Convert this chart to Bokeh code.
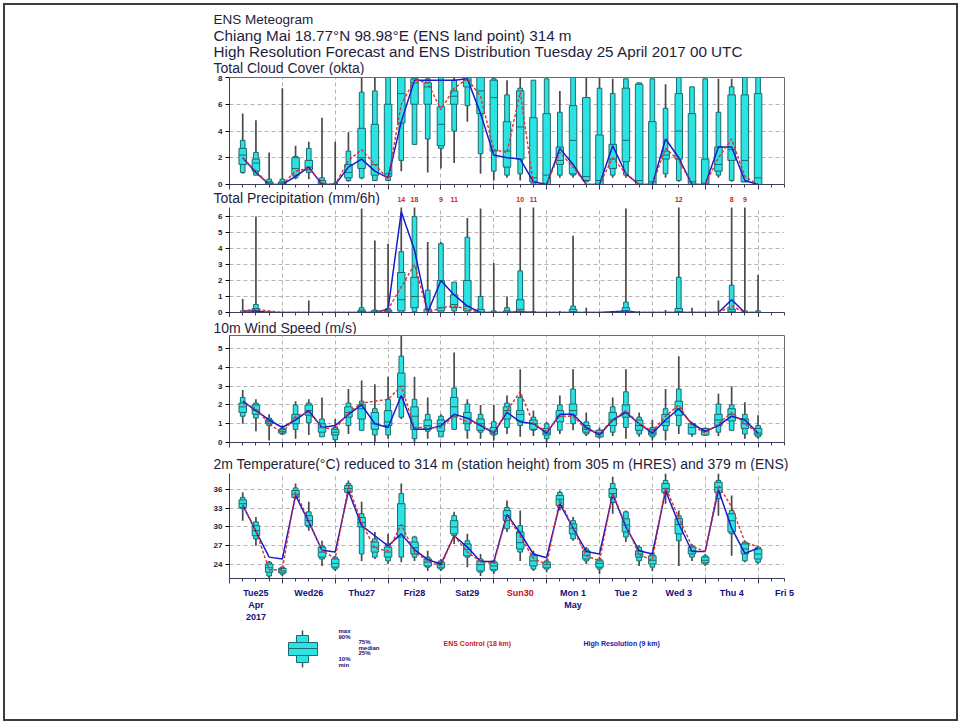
import numpy as np
from bokeh.plotting import figure
from bokeh.models import Range1d, FixedTicker, ColumnDataSource
from bokeh.layouts import column
from bokeh.embed import file_html
from bokeh.resources import INLINE
from bokeh.core.properties import value

# ---------------- data ----------------
hours = list(range(6, 241, 6))
day_ticks = list(range(0, 241, 24))
six_ticks = list(range(0, 253, 6))
day_pos = list(range(12, 253, 24))
day_labels = ["Tue25", "Wed26", "Thu27", "Fri28", "Sat29", "Sun30",
              "Mon 1", "Tue 2", "Wed 3", "Thu 4", "Fri 5"]
day_colors = ["#10107A"] * 5 + ["#CC1010"] + ["#10107A"] * 5
month_pos = [12, 12, 156]
month_labels = ["Apr", "2017", "May"]

# Total cloud cover (okta)
cc_min = [.8,.7,0,0,.4,.4,0,0,.2,.4,.3,.3,1.0,3.0,.9,1.2,1.6,4.7,.8,.3,.5,.3,0,0,.5,.5,.2,0,.5,.5,0,0,.5,.2,0,0,.5,.2,.2,0]
cc_p10 = [.9,.7,0,0,.5,.9,0,0,.3,.5,.3,.3,1.8,3.0,3.4,2.7,4.0,5.9,2.3,1.0,.7,.8,0,0,.7,.7,.2,0,.7,.7,0,0,.8,.3,0,0,.7,.3,.2,0]
cc_p25 = [1.5,1.0,0,0,.7,1.1,.05,0,.5,1.2,.7,.6,4.6,6.0,6.0,2.9,6.0,7.3,5.3,2.5,1.3,1.9,.2,0,1.5,.8,.3,0,1.2,1.7,0,0,1.9,1.9,0,0,1.0,1.8,.2,0]
cc_med = [2.2,1.6,.1,.1,1.2,1.3,.1,0,.9,2.0,1.5,.8,6.8,7.6,7.3,4.5,6.6,7.8,7.0,6.5,2.5,4.3,.5,.7,1.8,3.3,.6,.3,1.9,3.3,.3,.2,2.2,4.0,.2,.1,1.5,2.6,1.8,.5]
cc_p75 = [2.7,1.9,.2,.2,2.0,1.8,.3,0,1.5,4.2,4.5,6.0,8,7.9,7.6,5.8,7.0,8,8,7.8,4.7,7.0,5.0,5.3,2.8,5.9,6.5,3.7,3.0,7.2,7.5,4.7,2.5,6.8,5.3,1.9,2.8,6.7,6.7,6.8]
cc_p90 = [3.3,2.4,.4,.4,2.1,2.7,.5,.1,2.5,6.9,7.0,8,8,8,7.9,8,7.8,8,8,7.9,6.7,7.2,7.8,7.9,5.4,8,6.5,7.2,6.8,7.9,7.6,7.9,5.7,8,7.3,7.9,5.4,7.3,8,8]
cc_max = [5.3,4.8,2.4,7.2,2.9,3.2,5.0,3.2,3.9,8,8,8,8,8,8,8,8,8,8,8,7.8,8,7.8,7.9,7.0,8,8,8,7.9,7.9,7.6,7.9,7.5,8,7.3,7.9,7.9,7.9,8,8]
cc_hres = [2.0,.9,0,0,.6,1.3,0,0,1.3,1.9,1.0,.5,4.7,7.8,7.8,7.8,7.8,7.9,5.3,2.2,2.0,1.9,.2,0,2.7,1.5,0,0,2.9,.8,0,0,3.4,2.0,0,0,2.8,2.8,.3,0]
cc_ctrl = [2.0,1.0,0,0,1.0,1.2,.1,0,1.8,2.6,1.5,.4,6.0,7.8,7.6,5.6,7.2,7.9,6.6,2.6,2.4,6.9,0,0,2.4,1.3,0,0,2.0,.8,0,0,2.7,1.8,0,0,2.0,3.4,.6,0]

# Total precipitation (mm/6h)
tp_min = [0] * 40
tp_p10 = [0,0,0,0,0,0,0,0,0,0,0,0,0,.05,0,0,.1,0,0,0,0,0,0,0,0,0,0,0,0,0,0,0,0,0,0,0,0,0,0,0]
tp_p25 = [0,0,0,0,0,0,0,0,0,0,0,0,.1,.3,0,.1,.3,.1,0,0,0,0,0,0,0,0,0,0,0,0,0,0,0,0,0,0,0,0,0,0]
tp_med = [0,.1,0,0,0,0,0,0,0,.05,0,.05,.8,1.0,0,.3,.5,.4,0,0,0,.2,0,0,0,.05,0,0,0,.05,0,0,0,.05,0,0,0,.05,0,0]
tp_p75 = [0,.25,0,0,0,0,0,0,0,.15,.1,.15,2.5,2.2,.2,2.0,1.1,2.0,.2,0,.1,.8,0,0,0,.2,0,0,0,.3,0,0,0,.25,0,0,0,.2,0,0]
tp_p90 = [.1,.5,.05,0,0,0,0,0,0,.3,.15,.25,3.8,6.0,1.4,4.3,1.9,4.7,1.0,.1,.3,2.6,.05,0,0,.4,0,0,0,.65,0,0,0,2.2,0,0,0,1.7,.1,.1]
tp_max = [.85,6.0,.1,0,0,.75,0,0,0,6.5,4.5,4.3,14,18,4.4,4.4,1.9,5.9,6.5,3.1,1.0,10,11,0,.1,4.8,.3,0,.1,6.5,.1,0,.15,12,.3,0,.75,8,9,2.35]
tp_hres = [.1,.1,0,0,0,0,0,0,0,0,0,.2,6.3,3.9,0,2.0,1.1,.4,0,0,0,.05,0,0,0,0,0,0,.05,.1,0,0,0,0,0,0,0,.8,0,0]
tp_ctrl = [.1,.2,.1,0,0,0,0,0,0,0,0,.2,1.6,3.0,0,.3,.4,.2,0,0,0,.1,0,0,0,0,0,0,0,.05,0,0,0,0,0,0,0,.4,0,0]
tp_over_t = [78, 84, 96, 102, 132, 138, 204, 228, 234]
tp_over_txt = ["14", "18", "9", "11", "10", "11", "12", "8", "9"]

# 10m wind speed (m/s)
ws_min = [1.0,.6,.1,.4,.2,.4,.3,0,.45,.65,0,.2,1.25,0,.2,.3,.7,.2,.2,.1,.45,.3,.35,0,.45,.65,.35,.2,.35,.2,.3,.1,.1,.45,.3,.35,.35,.65,.2,.2]
ws_p10 = [1.4,1.3,.9,.45,.7,1.05,.3,.15,.9,.65,.4,.4,1.35,.2,.6,.3,.7,.65,.55,.4,.8,.9,.65,.2,.65,1.0,.45,.3,.55,.8,.45,.3,.65,.9,.45,.4,.55,.65,.45,.3]
ws_p25 = [1.6,1.5,1.0,.5,1.0,1.45,.55,.4,1.35,1.25,.7,.9,2.4,.7,.7,.6,1.4,1.0,.65,.45,1.25,1.15,.7,.4,1.1,1.45,.55,.3,.9,1.35,.65,.4,.9,1.45,.45,.4,.9,1.15,.75,.4]
ws_med = [1.9,1.7,1.1,.6,1.3,1.7,.8,.55,1.6,1.8,1.0,1.1,3.0,1.4,.9,1.0,1.9,1.3,1.0,.6,1.7,1.5,1.0,.5,1.4,1.7,.7,.5,1.2,1.6,.9,.5,1.1,1.8,.8,.6,1.2,1.5,1.0,.5]
ws_p75 = [2.1,2.0,1.2,.7,1.5,2.0,1.0,.7,1.9,2.0,1.6,1.7,3.7,1.9,1.2,1.2,2.4,1.6,1.25,.8,1.9,1.7,1.2,.75,1.7,2.05,.9,.65,1.6,2.0,1.2,.7,1.5,2.2,1.0,.75,1.5,1.8,1.25,.75]
ws_p90 = [2.4,2.1,1.3,.75,2.0,2.1,1.25,.8,2.1,2.2,1.8,2.3,4.6,2.3,1.5,1.4,2.9,2.05,1.5,1.1,2.1,2.4,1.35,1.0,2.0,2.85,1.1,.65,1.9,2.7,1.35,.8,1.8,2.85,1.0,.75,2.05,2.0,1.5,.9]
ws_max = [2.8,2.3,1.5,.9,2.2,2.3,2.4,1.25,2.85,3.3,3.1,3.5,5.7,3.5,2.4,1.5,4.8,2.3,2.0,2.0,2.5,3.9,1.7,1.1,2.5,3.9,1.6,.8,2.4,3.9,1.6,1.2,2.85,4.6,1.1,.8,2.6,3.0,2.15,1.45]
ws_hres = [2.2,1.7,1.2,.8,1.2,1.7,.8,.9,1.5,2.0,1.0,.8,2.5,.7,.7,.9,1.5,1.3,.9,.5,1.6,1.1,1.0,.5,1.5,1.5,.8,.4,1.2,1.6,1.0,.5,1.2,1.8,1.0,.6,.9,1.4,1.2,.5]
ws_ctrl = [2.1,1.8,1.0,.5,1.4,1.6,.8,.7,1.6,2.1,2.2,2.3,3.0,.8,.8,.8,1.4,1.1,1.0,.5,1.7,2.7,1.0,.6,1.4,1.4,.7,.5,1.2,1.7,1.0,.6,1.4,2.0,.9,.5,1.0,1.6,1.0,.5]

# 2m temperature (deg C)
t2_min = [31.0,27.0,21.7,22.2,34.5,29.4,23.8,23.0,35.3,24.6,24.9,24.1,24.4,24.6,23.0,23.0,27.3,23.6,22.2,22.5,29.2,24.6,23.0,22.8,32.6,27.8,24.1,22.5,32.1,27.6,23.8,23.0,33.7,23.8,24.6,23.8,31.8,25.4,24.4,24.1]
t2_p10 = [32.9,28.1,22.2,22.5,34.6,30.0,24.9,23.3,35.4,25.7,25.2,24.6,25.2,25.2,23.6,23.3,28.6,25.2,22.8,23.0,29.7,26.0,23.3,23.3,33.1,28.1,24.6,23.3,33.9,28.4,24.6,23.6,35.3,27.8,25.2,24.1,34.5,28.9,24.6,24.4]
t2_p25 = [33.1,28.6,22.8,22.7,34.7,30.2,25.2,23.6,35.5,30.0,26.0,25.2,28.4,25.7,23.8,23.5,28.9,25.4,23.0,23.2,31.0,26.5,23.8,23.5,33.4,28.9,24.9,23.6,34.7,29.2,25.2,24.1,35.5,28.9,25.7,24.3,35.5,29.2,25.7,24.9]
t2_med = [33.7,29.4,23.5,23.0,35.2,31.0,26.0,24.2,36.1,30.7,26.8,26.0,30.2,26.7,24.4,24.0,30.0,26.4,24.0,23.8,31.8,27.5,24.6,24.0,34.4,29.8,25.5,24.2,35.3,30.3,25.7,24.7,36.1,30.4,26.2,24.7,36.3,31.0,26.5,25.7]
t2_p75 = [34.3,30.2,24.1,23.4,35.8,31.8,26.8,24.9,36.6,31.5,27.6,26.8,33.7,27.6,24.9,24.4,31.0,27.3,24.6,24.3,32.6,29.2,25.4,24.4,35.0,30.5,26.2,24.6,36.1,31.3,26.2,25.4,36.9,31.3,26.8,25.2,37.1,32.1,27.3,26.5]
t2_p90 = [34.7,30.8,24.4,23.6,36.2,32.4,27.0,25.2,36.9,32.1,28.1,27.3,35.3,28.4,25.2,24.6,31.8,27.8,24.9,24.6,33.1,30.2,25.7,24.6,35.5,31.0,26.5,24.9,36.9,32.4,26.8,25.7,37.4,31.8,27.0,25.4,37.4,32.6,27.6,26.8]
t2_max = [35.5,31.6,24.6,23.8,36.9,34.0,27.8,25.4,37.4,34.0,29.2,28.9,36.9,28.6,26.2,24.9,32.4,28.9,25.7,24.6,34.2,32.6,26.2,24.9,35.8,31.6,26.8,25.2,38.0,32.6,27.1,26.0,38.5,32.6,27.3,25.7,38.5,35.0,27.8,27.0]
t2_hres = [33.5,29.3,25.2,24.9,35.0,30.8,26.3,26.0,35.7,30.2,28.6,27.0,28.9,26.4,24.8,24.1,28.6,26.8,24.5,24.5,32.0,29.0,25.7,25.1,33.7,29.8,26.1,25.7,35.2,30.0,26.2,25.7,35.8,30.5,26.1,26.1,35.9,29.8,25.8,26.6]
t2_ctrl = [33.5,29.4,23.2,23.2,35.6,31.0,26.2,25.0,36.5,30.6,26.6,26.2,30.4,26.0,24.6,23.8,28.6,26.0,24.5,24.2,31.9,28.5,25.0,24.0,34.4,29.7,25.4,24.6,35.3,30.3,25.6,24.7,36.3,31.5,26.9,26.1,36.6,33.2,27.6,26.8]

# ---------------- style / layout ----------------
CYAN = "#2BE3E3"
EDGE = "#1C6B6E"
WHISK = "#4A4A4A"
BLUE = "#1A1ACC"
RED = "#E03030"
NAVY = "#10107A"
TXT = "#1E1E3C"
FONT = "Liberation Sans"
W = 961
FX0, FX1 = 229, 784          # frame left / right on the page
XMAX = 252
K = (FX1 - FX0) / XMAX       # pixels per hour


def hx(px):
    """page pixel -> hour coordinate of the shared time axis"""
    return (px - FX0) / K


def strip(h):
    s = figure(width=W, height=h, x_range=Range1d(hx(0), hx(W)), y_range=Range1d(h, 0),
               output_backend="svg", toolbar_location=None, min_border=0,
               x_axis_type=None, y_axis_type=None)
    try:
        s.frame_align = False
    except Exception:
        pass
    s.grid.visible = False
    s.outline_line_color = None
    s.background_fill_color = None
    s.border_fill_color = None
    return s


def stext(s, x, y, texts, size="14px", color=TXT, style="normal", align="left"):
    s.text(x=x, y=y, text=texts, text_font=value(FONT), text_font_size=value(size),
           text_color=color, text_font_style=value(style), text_baseline="middle",
           text_align=align)


def panel(height, y0, y1, yticks, frame, top=2, bottom=6):
    p = figure(width=W, height=height, x_range=Range1d(0, XMAX), y_range=Range1d(y0, y1),
               output_backend="svg", toolbar_location=None,
               min_border_left=FX0, min_border_right=W - FX1,
               min_border_top=top, min_border_bottom=bottom)
    p.outline_line_color = "#6A6A6A" if frame else None
    p.border_fill_color = None
    p.background_fill_color = None
    xa = p.xaxis[0]
    xa.ticker = FixedTicker(ticks=day_ticks, minor_ticks=six_ticks)
    xa.major_label_text_font_size = "1px"
    xa.major_label_text_color = None
    xa.major_label_standoff = 0
    xa.major_tick_in = 0
    xa.major_tick_out = 5
    xa.minor_tick_in = 0
    xa.minor_tick_out = 3
    xa.axis_line_color = "#3A3A5A"
    xa.major_tick_line_color = "#3A3A5A"
    xa.minor_tick_line_color = "#3A3A5A"
    ya = p.yaxis[0]
    ya.ticker = FixedTicker(ticks=yticks)
    ya.major_label_text_font_size = "8px"
    ya.major_label_text_font_style = "bold"
    ya.major_label_text_font = FONT
    ya.major_label_text_color = TXT
    ya.major_label_standoff = 3
    ya.minor_tick_line_color = None
    ya.major_tick_in = 0
    ya.major_tick_out = 4
    ya.axis_line_color = "#3A3A5A"
    p.xgrid.ticker = FixedTicker(ticks=day_ticks)
    p.ygrid.ticker = FixedTicker(ticks=yticks)
    p.grid.grid_line_dash = "4 3"
    p.grid.grid_line_color = "#B4B4B4"
    return p


def boxes(p, mn, p10, p25, med, p75, p90, mx, hres, ctrl):
    src = ColumnDataSource(dict(t=hours, mn=mn, p10=p10, p25=p25, med=med,
                                p75=p75, p90=p90, mx=mx, hres=hres, ctrl=ctrl))
    p.segment(x0="t", y0="mn", x1="t", y1="mx", source=src, line_color=WHISK, line_width=1.7)
    p.vbar(x="t", bottom="p10", top="p90", width=2.1, source=src,
           fill_color=CYAN, line_color=EDGE, line_width=1)
    p.vbar(x="t", bottom="p25", top="p75", width=3.4, source=src,
           fill_color=CYAN, line_color=EDGE, line_width=1)
    p.scatter(x="t", y="med", marker="dash", size=7, source=src, line_color=EDGE, line_width=1)
    p.line(x="t", y="hres", source=src, line_color=BLUE, line_width=1.5)
    p.line(x="t", y="ctrl", source=src, line_color=RED, line_width=1.4, line_dash="3 2")


TX = hx(213)

# header + cloud title (page y 0-75)
s0 = strip(75)
stext(s0, [TX], [19], ["ENS Meteogram"], size="13.5px")
stext(s0, [TX] * 2, [35, 51],
      ["Chiang Mai 18.77\u00b0N 98.98\u00b0E (ENS land point) 314 m",
       "High Resolution Forecast and ENS Distribution Tuesday 25 April 2017 00 UTC"],
      size="15.25px")
stext(s0, [TX], [67], ["Total Cloud Cover (okta)"])

# cloud (page 75-190, frame 77-184)
p1 = panel(115, 0, 8, [0, 2, 4, 6, 8], True)
boxes(p1, cc_min, cc_p10, cc_p25, cc_med, cc_p75, cc_p90, cc_max, cc_hres, cc_ctrl)

# precip title strip (page 190-205)
s1 = strip(15)
stext(s1, [TX], [7.5], ["Total Precipitation (mm/6h)"])
stext(s1, tp_over_t, [9] * len(tp_over_t), tp_over_txt, size="7px", color="#D02020",
      style="bold", align="center")

# precip (page 205-317, frame 207-312)
p2 = panel(112, 0, 6.56, [0, 1, 2, 3, 4, 5, 6], False, top=2, bottom=5)
boxes(p2, tp_min, tp_p10, tp_p25, tp_med, tp_p75, tp_p90, tp_max, tp_hres, tp_ctrl)

# wind title strip (page 317-334)
s2 = strip(17)
stext(s2, [TX], [10], ["10m Wind Speed (m/s)"])

# wind (page 334-448, frame 335-442)
p3 = panel(114, 0, 5.7, [0, 1, 2, 3, 4, 5], True, top=1, bottom=6)
boxes(p3, ws_min, ws_p10, ws_p25, ws_med, ws_p75, ws_p90, ws_max, ws_hres, ws_ctrl)

# temperature title strip (page 448-471)
s3 = strip(23)
stext(s3, [TX], [15], ["2m Temperature(\u00b0C) reduced to 314 m (station height) from 305 m (HRES) and 379 m (ENS)"])

# temperature (page 471-584, frame 473-578)
p4 = panel(113, 21.8, 38.5, [24, 27, 30, 33, 36], False)
boxes(p4, t2_min, t2_p10, t2_p25, t2_med, t2_p75, t2_p90, t2_max, t2_hres, t2_ctrl)

# day labels + legend (page 584-724)
s4 = strip(140)
s4.text(x=day_pos, y=[8] * len(day_pos), text=day_labels, text_color=day_colors,
        text_font=value(FONT), text_font_size=value("9px"), text_font_style=value("bold"),
        text_baseline="middle", text_align="center")
stext(s4, month_pos, [20, 32, 20], month_labels, size="9px", color=NAVY, style="bold",
      align="center")
# legend icon
s4.segment(x0=[hx(302)], y0=[46], x1=[hx(302)], y1=[83], line_color=WHISK, line_width=1.5)
s4.quad(left=[hx(296)], right=[hx(308)], top=[51], bottom=[78], fill_color=CYAN, line_color=EDGE)
s4.quad(left=[hx(288)], right=[hx(317)], top=[58], bottom=[71], fill_color=CYAN, line_color=EDGE)
s4.segment(x0=[hx(288)], y0=[64], x1=[hx(317)], y1=[64], line_color=EDGE)
stext(s4, [hx(338), hx(338), hx(358), hx(358), hx(358), hx(338), hx(338)],
      [46, 52, 57, 63, 68, 74, 80],
      ["max", "90%", "75%", "median", "25%", "10%", "min"], size="6px", color=NAVY, style="bold")
stext(s4, [hx(443)], [59], ["ENS Control (18 km)"], size="7px", color="#D01818", style="bold")
stext(s4, [hx(583)], [59], ["High Resolution (9 km)"], size="7px", color="#1818B0", style="bold")

lay = column(s0, p1, s1, p2, s2, p3, s3, p4, s4, spacing=0,
             styles={"outline": "2px solid #3C3C3C", "outline-offset": "-5px"})
open("out.html", "w").write(file_html(lay, INLINE))
